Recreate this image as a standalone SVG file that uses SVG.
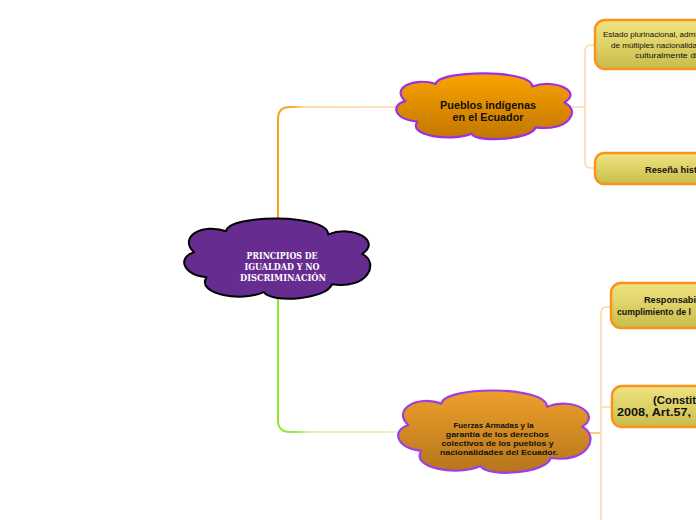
<svg xmlns="http://www.w3.org/2000/svg" width="696" height="520" viewBox="0 0 696 520">
<style>
.cloud{vector-effect:non-scaling-stroke;stroke-linejoin:round}
.box{fill:url(#gBox);stroke:#f7941d;stroke-width:2.5}
.lt{fill:none;stroke:#fdd8a6;stroke-width:1.5}
.t{font-family:"Liberation Sans",Arial,sans-serif;fill:#111}
.b{font-weight:bold}
.ct{font-family:"DejaVu Serif","Liberation Serif",serif;font-weight:bold;font-size:8.5px;fill:#fff;text-anchor:middle}
</style>
<defs>
<linearGradient id="gOr" x1="0" y1="0" x2="0" y2="1"><stop offset="0" stop-color="#faa300"/><stop offset="1" stop-color="#c27600"/></linearGradient>
<linearGradient id="gOr2" x1="0" y1="0" x2="0" y2="1"><stop offset="0" stop-color="#eea02a"/><stop offset="1" stop-color="#b5751c"/></linearGradient>
<linearGradient id="gBox" x1="0" y1="0" x2="0" y2="1"><stop offset="0" stop-color="#efe381"/><stop offset="0.5" stop-color="#ddd167"/><stop offset="1" stop-color="#c8bc4b"/></linearGradient>
<linearGradient id="gLineO" gradientUnits="userSpaceOnUse" x1="278" y1="0" x2="400" y2="0"><stop offset="0" stop-color="#f7a11c"/><stop offset="0.12" stop-color="#f8aa33"/><stop offset="0.22" stop-color="#fdddb0"/><stop offset="1" stop-color="#fde3bd"/></linearGradient>
<linearGradient id="gLineG" gradientUnits="userSpaceOnUse" x1="278" y1="0" x2="405" y2="0"><stop offset="0" stop-color="#8fe62b"/><stop offset="0.12" stop-color="#9be843"/><stop offset="0.25" stop-color="#d6f5b0"/><stop offset="1" stop-color="#e0f8c4"/></linearGradient>
</defs>

<g id="connectors">
<path d="M278,220 V119 Q278,107 290,107 H402" fill="none" stroke="url(#gLineO)" stroke-width="2"/>
<path d="M278,296 V420 Q278,432 290,432 H405" fill="none" stroke="url(#gLineG)" stroke-width="2"/>
<path class="lt" d="M572,107 H585"/>
<path class="lt" d="M595,45 H591 Q585,45 585,51 V162 Q585,168 591,168 H595"/>
<path d="M589,433 H601" fill="none" stroke="#f9b760" stroke-width="1.5"/>
<path class="lt" d="M611,307 H607 Q601,307 601,313 V520"/>
<path class="lt" d="M601,407 H611"/>
</g>

<g id="root">
<path class="cloud" transform="translate(188.6,218) scale(1.79,0.78)" fill="#672c8f" stroke="#000" stroke-width="2" d="M3,44 C-6,24 8,6 21,17 C22,-5 78,-6 78,21 C92,8 108,30 97,46 C107,58 100,92 80,85 C78,104 46,110 42,95 C30,108 4,98 10,76 C-4,72 -6,50 3,44 Z"/>
<text class="ct" x="282" y="259" textLength="71" lengthAdjust="spacingAndGlyphs">PRINCIPIOS DE</text>
<text class="ct" x="282" y="270" textLength="75" lengthAdjust="spacingAndGlyphs">IGUALDAD Y NO</text>
<text class="ct" x="283" y="280.5" textLength="86" lengthAdjust="spacingAndGlyphs">DISCRIMINACIÓN</text>
</g>

<g id="pueblos">
<path class="cloud" transform="translate(400.4,73) scale(1.69,0.64)" fill="url(#gOr)" stroke="#9b30e6" stroke-width="2.2" d="M3,44 C-6,24 8,6 21,17 C22,-5 78,-6 78,21 C92,8 108,30 97,46 C107,58 100,92 80,85 C78,104 46,110 42,95 C30,108 4,98 10,76 C-4,72 -6,50 3,44 Z"/>
<text class="t b" x="488" y="109" font-size="10" text-anchor="middle" textLength="96" lengthAdjust="spacingAndGlyphs">Pueblos indígenas</text>
<text class="t b" x="488" y="121" font-size="10" text-anchor="middle" textLength="71" lengthAdjust="spacingAndGlyphs">en el Ecuador</text>
</g>

<g id="fuerzas">
<path class="cloud" transform="translate(402.7,390) scale(1.85,0.8)" fill="url(#gOr2)" stroke="#a03ee6" stroke-width="2.2" d="M3,44 C-6,24 8,6 21,17 C22,-5 78,-6 78,21 C92,8 108,30 97,46 C107,58 100,92 80,85 C78,104 46,110 42,95 C30,108 4,98 10,76 C-4,72 -6,50 3,44 Z"/>
<text class="t b" x="493.5" y="427.5" font-size="8" text-anchor="middle" textLength="80" lengthAdjust="spacingAndGlyphs">Fuerzas Armadas y la</text>
<text class="t b" x="497.3" y="436.5" font-size="8" text-anchor="middle" textLength="103" lengthAdjust="spacingAndGlyphs">garantía de los derechos</text>
<text class="t b" x="497.5" y="445.5" font-size="8" text-anchor="middle" textLength="112" lengthAdjust="spacingAndGlyphs">colectivos de los pueblos y</text>
<text class="t b" x="499" y="455" font-size="8" text-anchor="middle" textLength="118" lengthAdjust="spacingAndGlyphs">nacionalidades del Ecuador.</text>
</g>

<g id="estado">
<rect class="box" x="595" y="20" width="250" height="49" rx="10"/>
<text class="t" x="603" y="37.3" font-size="7" textLength="94" lengthAdjust="spacingAndGlyphs">Estado plurinacional, admi</text>
<text class="t" x="611" y="47.5" font-size="7" textLength="86" lengthAdjust="spacingAndGlyphs">de múltiples nacionalida</text>
<text class="t" x="635" y="57.7" font-size="7" textLength="62" lengthAdjust="spacingAndGlyphs">culturalmente di</text>
</g>

<g id="resena">
<rect class="box" x="595" y="153" width="250" height="31" rx="9"/>
<text class="t b" x="645" y="173" font-size="9" textLength="52" lengthAdjust="spacingAndGlyphs">Reseña hist</text>
</g>

<g id="responsabilidad">
<rect class="box" x="611" y="283" width="250" height="45" rx="10"/>
<text class="t b" x="644" y="303" font-size="9.5" textLength="52" lengthAdjust="spacingAndGlyphs">Responsabi</text>
<text class="t b" x="617" y="315" font-size="9.5" textLength="74" lengthAdjust="spacingAndGlyphs">cumplimiento de l</text>
</g>

<g id="constitucion">
<rect class="box" x="612" y="386" width="250" height="41" rx="10"/>
<text class="t b" x="653" y="404" font-size="11" textLength="43" lengthAdjust="spacingAndGlyphs">(Constit</text>
<text class="t b" x="617" y="415.5" font-size="11" textLength="74" lengthAdjust="spacingAndGlyphs">2008, Art.57,</text>
</g>
</svg>
